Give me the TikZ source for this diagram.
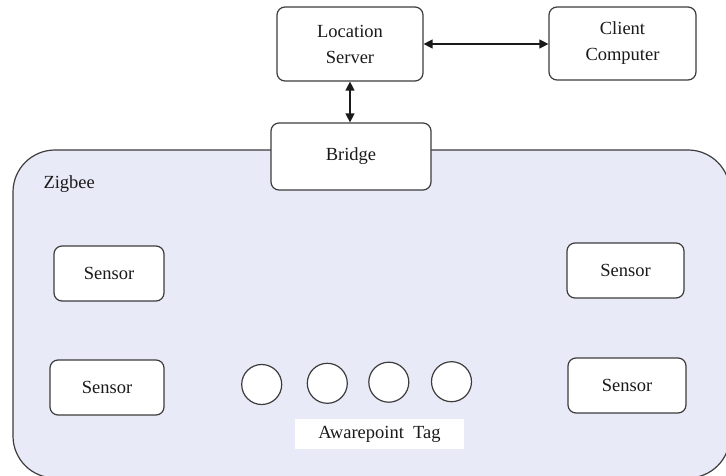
\documentclass[tikz,border=0pt]{standalone}
\usepackage{fontspec}
\setmainfont{Liberation Serif}
\usetikzlibrary{arrows.meta}
\definecolor{edge}{HTML}{3C3C3C}
\definecolor{ink}{HTML}{1A1A1A}
\definecolor{zone}{RGB}{232,234,247}
\tikzset{
  lbl/.style={font=\fontsize{18.5}{26}\selectfont, text=ink, align=center},
  box/.style={lbl, draw=edge, line width=1.2pt, fill=white, rounded corners=8pt, inner sep=0pt},
  tag/.style={draw=edge, line width=1.2pt, fill=white, circle, minimum size=40pt, inner sep=0pt},
  link/.style={draw=ink, line width=1.3pt, {Triangle[length=9pt,width=9pt]}-{Triangle[length=9pt,width=9pt]}}
}
\begin{document}
\begin{tikzpicture}[x=1pt,y=-1pt]
\useasboundingbox (0,0) rectangle (726,476);
\fill[white] (0,0) rectangle (726,476);

% network zone
\node[draw=edge, line width=1.2pt, fill=zone, rounded corners=42pt,
      minimum width=717pt, minimum height=328pt, inner sep=0pt] (zigbee) at (371.5,314) {};
\node[lbl, anchor=west] (zlabel) at (40,184) {Zigbee};

% upper nodes
\node[box, minimum width=146pt, minimum height=74pt] (ls) at (350,44) {Location\\Server};
\node[box, minimum width=147pt, minimum height=73pt] (cc) at (622.5,43.5) {Client\\Computer};
\node[box, minimum width=160pt, minimum height=67pt] (br) at (351,156.5) {Bridge};

% sensors
\node[box, minimum width=110pt, minimum height=55pt] (s1) at (109,273.5) {Sensor};
\node[box, minimum width=114pt, minimum height=55pt] (s2) at (107,387.5) {Sensor};
\node[box, minimum width=117pt, minimum height=55pt] (s3) at (625.5,270.5) {Sensor};
\node[box, minimum width=118pt, minimum height=55pt] (s4) at (627,385.5) {Sensor};

% tags
\node[tag] (t1) at (261.7,384.5) {};
\node[tag] (t2) at (327.3,383.3) {};
\node[tag] (t3) at (388.8,382.2) {};
\node[tag] (t4) at (451.5,381.7) {};
\node[lbl, fill=white, minimum width=169pt, minimum height=30pt, inner sep=0pt] (tl) at (379.5,434) {Awarepoint\ \ Tag};

% links
\draw[link] (ls.east) -- (ls.east -| cc.west);
\draw[link] (ls.south) -- (ls.south |- br.north);
\end{tikzpicture}
\end{document}
